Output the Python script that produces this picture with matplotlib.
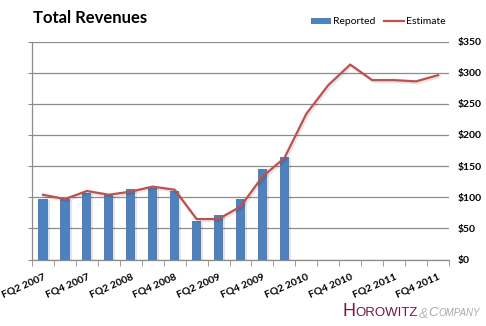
import matplotlib
matplotlib.use("Agg")
import matplotlib.pyplot as plt
import numpy as np

quarters = ["FQ2 2007", "FQ3 2007", "FQ4 2007", "FQ1 2008", "FQ2 2008", "FQ3 2008",
            "FQ4 2008", "FQ1 2009", "FQ2 2009", "FQ3 2009", "FQ4 2009", "FQ1 2010",
            "FQ2 2010", "FQ3 2010", "FQ4 2010", "FQ1 2011", "FQ2 2011", "FQ3 2011",
            "FQ4 2011"]
reported = [97, 97, 106, 103, 113, 115, 110, 62, 72, 97, 146, 164]
estimate = [104, 97, 110, 104, 109, 117, 112, 65, 65, 85, 133, 163,
            234, 280, 313, 288, 288, 286, 296]
y_ticks = [0, 50, 100, 150, 200, 250, 300, 350]

blue, red, grid = "#4F81BD", "#C0504D", "#8C8C8C"
plt.rcParams.update({"font.family": ["Lato", "DejaVu Sans"]})

fig = plt.figure(figsize=(4.86, 3.26), dpi=100)
ax = fig.add_axes([32/486, 1-259.5/326, 417/486, 218/326])

xb = np.arange(len(reported))
xe = np.arange(len(estimate))
# soft Excel-style shadows
ax.bar(xb + 0.09, [v - 1 for v in reported], width=0.42, color="#000000", alpha=0.10, zorder=2, lw=0)
bars = ax.bar(xb, reported, width=0.42, color=blue, zorder=3, lw=0, label="Reported")
ax.plot(xe + 0.06, [v - 2.5 for v in estimate], color="#000000", alpha=0.10, lw=2.2, zorder=3)
line, = ax.plot(xe, estimate, color=red, lw=1.6, zorder=4, label="Estimate")

ax.set_xlim(-0.5, len(quarters) - 0.5)
ax.set_ylim(0, 350)
ax.set_yticks(y_ticks)
ax.set_yticklabels([f"${v}" for v in y_ticks], fontsize=7.5, fontweight="bold")
ax.tick_params(axis="y", left=True, right=False, labelleft=False, labelright=True,
               length=3, color=grid, pad=3.5)
ax.grid(axis="y", color=grid, lw=0.9)
ax.set_axisbelow(True)

ax.set_xticks(np.arange(-0.5, len(quarters)), minor=True)
ax.set_xticks(xe[::2])
ax.set_xticklabels(quarters[::2], fontsize=7.5, fontweight="bold", rotation=24,
                   ha="right", va="top", rotation_mode="anchor")
ax.tick_params(axis="x", which="major", length=0, pad=9)
ax.tick_params(axis="x", which="minor", length=4, color=grid, direction="out")

for sp in ["top", "right"]:
    ax.spines[sp].set_visible(False)
for sp in ["left", "bottom"]:
    ax.spines[sp].set_color(grid)
    ax.spines[sp].set_linewidth(0.9)

fig.text(33/486, 1-18/326, "Total Revenues", fontsize=12, fontweight="bold", va="center")
ax.legend(handles=[bars, line], loc="center right", bbox_to_anchor=(450/486, 1-22/326),
          bbox_transform=fig.transFigure, ncol=2, frameon=False, fontsize=7.5,
          handlelength=1.9, handleheight=0.55, columnspacing=0.8, handletextpad=0.25,
          borderaxespad=0)

# company mark, pieces laid out one after another
logo = ["Liberation Sans Narrow", "Liberation Sans", "DejaVu Sans"]
pieces = [("H", 13, "#6B1D45", "normal", 0), ("OROWITZ", 9.5, "#6B1D45", "normal", 0),
          ("&", 10, "#BBBBBB", "italic", -2), ("C", 9.5, "#A8A8A8", "italic", 0),
          ("OMPANY", 7, "#A8A8A8", "italic", 0)]
r = fig.canvas.get_renderer()
x = 342
for s, fs, c, st, dy in pieces:
    t = fig.text(x/486, (10 + dy)/326, s, fontsize=fs, color=c, family=logo,
                 style=st, va="baseline")
    x += t.get_window_extent(r).width + 0.5

fig.savefig("out.png", dpi=100)
